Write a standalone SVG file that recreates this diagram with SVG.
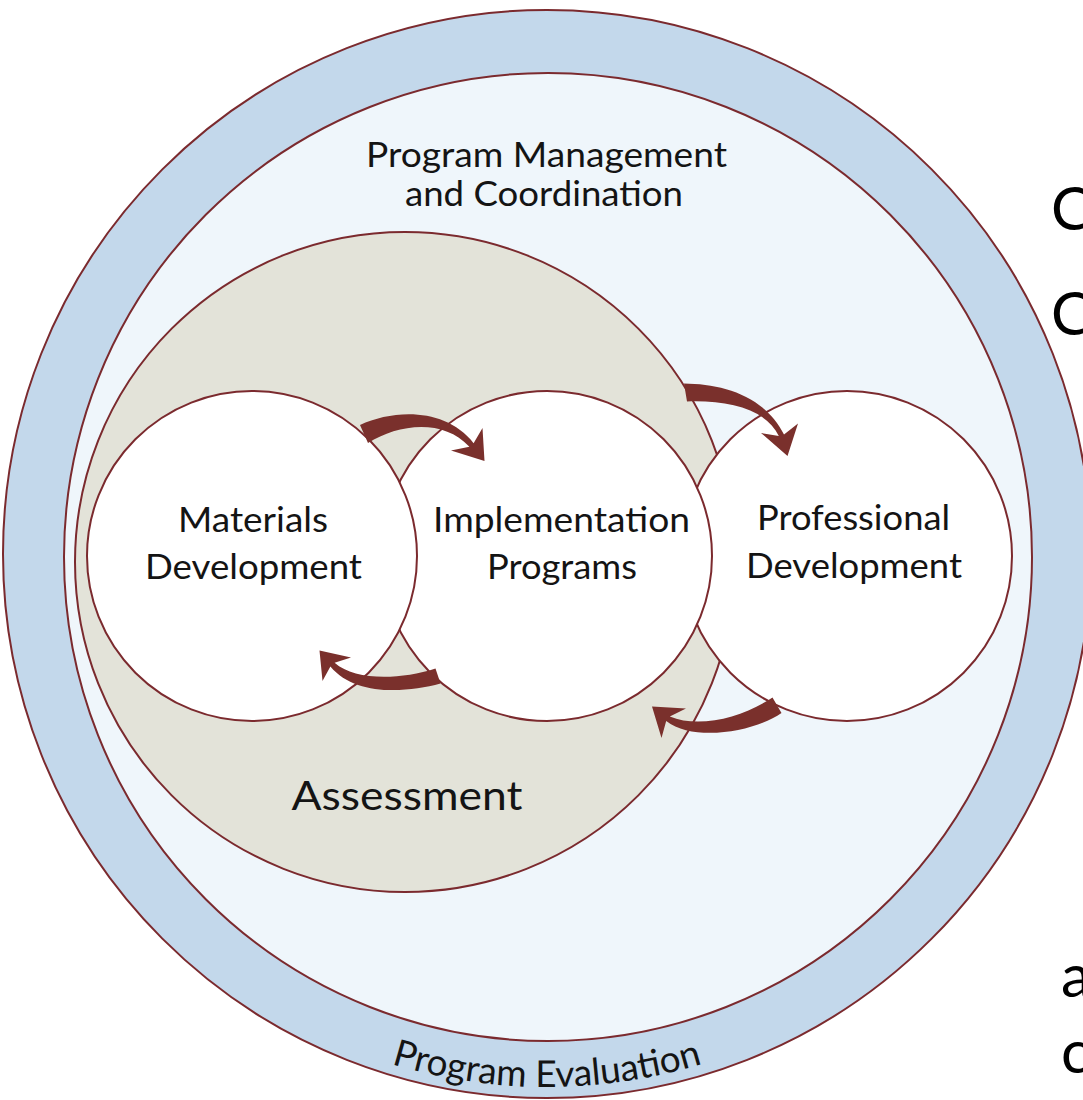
<svg xmlns="http://www.w3.org/2000/svg" width="1083" height="1100" viewBox="0 0 1083 1100">
  <style>
    .ring { fill: #c3d8eb; stroke: #7b2a2e; stroke-width: 2; }
    .field { fill: #eff6fb; stroke: #7b2a2e; stroke-width: 2; }
    .assess { fill: #e3e3d9; stroke: #7b2a2e; stroke-width: 2; }
    .node { fill: #ffffff; stroke: #7b2a2e; stroke-width: 2; }
    .lbl { font-family: Lato, "Liberation Sans", sans-serif; font-size: 35px; fill: #141414; text-anchor: middle; }
    .big { font-size: 41px; }
    .eval { font-family: Lato, "Liberation Sans", sans-serif; font-size: 37px; fill: #141414; }
    .edge { fill: #7a302c; }
    .side { font-family: Lato, "Liberation Sans", sans-serif; font-size: 60px; fill: #000000; }
  </style>
  <defs>
    <!-- baseline arc for the curved evaluation label -->
    <path id="evalArc" d="M 85.4 820.5 A 533 533 0 0 0 1008.6 820.5"/>
  </defs>

  <rect x="0" y="0" width="1083" height="1100" fill="#ffffff"/>

  <!-- outer evaluation ring -->
  <g id="program-evaluation">
    <circle class="ring" cx="547" cy="554" r="544"/>
  </g>

  <!-- management field -->
  <g id="program-management">
    <circle class="field" cx="548" cy="557" r="484"/>
    <text class="lbl" x="546.5" y="167" textLength="361" lengthAdjust="spacingAndGlyphs">Program Management</text>
    <text class="lbl" x="544" y="206" textLength="278" lengthAdjust="spacingAndGlyphs">and Coordination</text>
  </g>

  <!-- assessment disc -->
  <g id="assessment">
    <circle class="assess" cx="405" cy="562" r="330"/>
    <text class="lbl big" x="407" y="810" textLength="231" lengthAdjust="spacingAndGlyphs">Assessment</text>
  </g>

  <!-- component circles, back to front -->
  <g id="professional-development">
    <circle class="node" cx="847" cy="556" r="165"/>
    <text class="lbl" x="853.5" y="530" textLength="193" lengthAdjust="spacingAndGlyphs">Professional</text>
    <text class="lbl" x="854" y="578" textLength="216" lengthAdjust="spacingAndGlyphs">Development</text>
  </g>

  <g id="implementation-programs">
    <circle class="node" cx="547" cy="556" r="165"/>
    <text class="lbl" x="561.5" y="532" textLength="257" lengthAdjust="spacingAndGlyphs">Implementation</text>
    <text class="lbl" x="562" y="579" textLength="150" lengthAdjust="spacingAndGlyphs">Programs</text>
  </g>

  <g id="materials-development">
    <circle class="node" cx="252" cy="556" r="165"/>
    <text class="lbl" x="253" y="532" textLength="150" lengthAdjust="spacingAndGlyphs">Materials</text>
    <text class="lbl" x="253.5" y="579" textLength="217" lengthAdjust="spacingAndGlyphs">Development</text>
  </g>

  <!-- tapered curved arrows between components -->
  <g id="connectors">
    <path class="edge" d="M 360 425 C 395 409 446 408 473.6 443.2 L 482.5 428 L 484.5 461 L 451 450.5 L 469.4 446.8 C 443 418 398 424 368 443 Z"/>
    <path class="edge" d="M 684 383.5 C 722 384 764 395 784 434.5 L 798 423.5 L 787.5 456 L 761 433 L 778.8 435.9 C 766 409 728 400 687 401.5 Z"/>
    <path class="edge" d="M 781.5 713 C 756 731 695 743 666.2 720.9 L 661.5 738 L 652 706.5 L 686 708.5 L 669.8 716.5 C 700 729 743 717 772.5 697.5 Z"/>
    <path class="edge" d="M 440.5 683.5 C 405 693 355 696 330.4 666.4 L 322.5 681 L 319.5 650.5 L 351 657.5 L 334.6 662.8 C 355 681 400 680 435.5 668.5 Z"/>
  </g>

  <!-- curved ring label -->
  <text class="eval"><textPath href="#evalArc" startOffset="50%" text-anchor="middle">Program Evaluation</textPath></text>

  <!-- letters of the neighbouring text column, cut by the edge -->
  <g id="margin-text">
    <text class="side" x="1051" y="230">C</text>
    <text class="side" x="1051" y="335">C</text>
    <text class="side" x="1061" y="997">a</text>
    <text class="side" x="1061" y="1073">c</text>
  </g>
</svg>
